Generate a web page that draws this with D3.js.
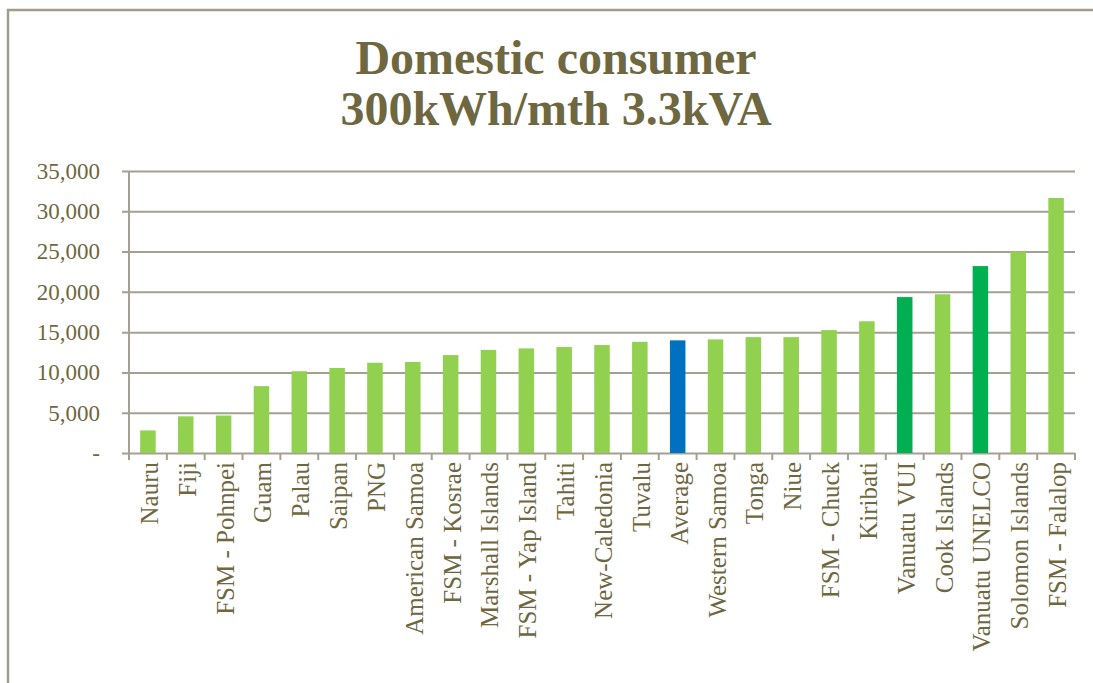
<!DOCTYPE html>
<html>
<head>
<meta charset="utf-8">
<script src="https://cdn.jsdelivr.net/npm/d3@7"></script>
<style>
  body { margin: 0; background: #fff; }
  text { font-family: "Liberation Serif", "DejaVu Serif", serif; }
</style>
</head>
<body>
<svg id="chart" width="1093" height="683"></svg>
<script>
// data
const categories = ["Nauru", "Fiji", "FSM - Pohnpei", "Guam", "Palau", "Saipan", "PNG",
    "American Samoa", "FSM - Kosrae", "Marshall Islands", "FSM - Yap Island", "Tahiti",
    "New-Caledonia", "Tuvalu", "Average", "Western Samoa", "Tonga", "Niue", "FSM - Chuck",
    "Kiribati", "Vanuatu VUI", "Cook Islands", "Vanuatu UNELCO", "Solomon Islands", "FSM - Falalop"]
const values = [2800, 4550, 4650, 8300, 10150, 10550, 11200,
    11300, 12150, 12800, 12980, 13150,
    13400, 13800, 13980, 14100, 14380, 14380, 15250,
    16350, 19350, 19700, 23200, 25000, 31650]
const highlightVanuatu = ["Vanuatu VUI", "Vanuatu UNELCO"]
const highlightAverage = ["Average"]
const yTicks = [0, 5000, 10000, 15000, 20000, 25000, 30000, 35000]
const titleLines = ["Domestic consumer", "300kWh/mth 3.3kVA"]

const svg = d3.select('#chart')
const width = +svg.attr('width')

const plotLeft = 129, plotRight = 1075, plotTop = 171, plotBottom = 453
const gridColor = '#a4a092'
const textColor = '#6e673f'

// outer frame (only top and left edges are in view)
svg.append('path')
    .attr('d', `M8,${683} V10 H${width}`)
    .attr('fill', 'none')
    .attr('stroke', '#a09c8a')
    .attr('stroke-width', 2.5)

const title = svg.append('text')
    .attr('text-anchor', 'middle')
    .attr('fill', textColor)
    .attr('font-weight', 'bold')
    .attr('font-size', 48)
title.selectAll('tspan')
    .data(titleLines)
    .join('tspan')
        .attr('x', 556)
        .attr('y', (d, i) => 74 + i * 51)
        .text(d => d)

const x = d3.scaleBand()
    .domain(categories)
    .range([plotLeft, plotRight])
    .paddingInner(0.59)
    .paddingOuter(0.295)

const y = d3.scaleLinear()
    .domain([0, 35000])
    .range([plotBottom, plotTop])

// gridlines + y axis
const yAxis = d3.axisLeft(y)
    .tickValues(yTicks)
    .tickSize(-(plotRight - plotLeft))
    .tickFormat(d => d === 0 ? '-' : d3.format(',')(d))

const gy = svg.append('g')
    .attr('transform', `translate(${plotLeft},0)`)
    .call(yAxis)
gy.select('.domain').remove()
gy.selectAll('.tick line')
    .attr('x1', -7)
    .attr('stroke', gridColor)
    .attr('stroke-width', 2)
gy.selectAll('.tick text')
    .attr('x', -29)
    .attr('fill', textColor)
    .attr('font-size', 23)

svg.append('line')
    .attr('x1', plotLeft).attr('x2', plotLeft)
    .attr('y1', plotTop).attr('y2', plotBottom)
    .attr('stroke', gridColor)
    .attr('stroke-width', 2)

// bars
svg.append('g')
    .selectAll('rect')
    .data(categories)
    .join('rect')
        .attr('x', d => x(d))
        .attr('width', x.bandwidth())
        .attr('y', (d, i) => y(values[i]))
        .attr('height', (d, i) => y(0) - y(values[i]))
        .attr('fill', d => highlightAverage.includes(d) ? '#0070c0'
            : highlightVanuatu.includes(d) ? '#00b050' : '#92d050')

// category boundary ticks on the x axis
const step = x.step()
const boundaries = d3.range(categories.length + 1).map(i => plotLeft + i * step)
svg.append('g')
    .selectAll('line')
    .data(boundaries)
    .join('line')
        .attr('x1', d => d).attr('x2', d => d)
        .attr('y1', plotBottom).attr('y2', plotBottom + 7)
        .attr('stroke', gridColor)
        .attr('stroke-width', 2)

// rotated category labels
svg.append('g')
    .selectAll('text')
    .data(categories)
    .join('text')
        .attr('transform', d => `translate(${x(d) + x.bandwidth() / 2 + 10},${plotBottom + 9}) rotate(-90)`)
        .attr('text-anchor', 'end')
        .attr('fill', textColor)
        .attr('font-size', 25)
        .text(d => d)
</script>
</body>
</html>
